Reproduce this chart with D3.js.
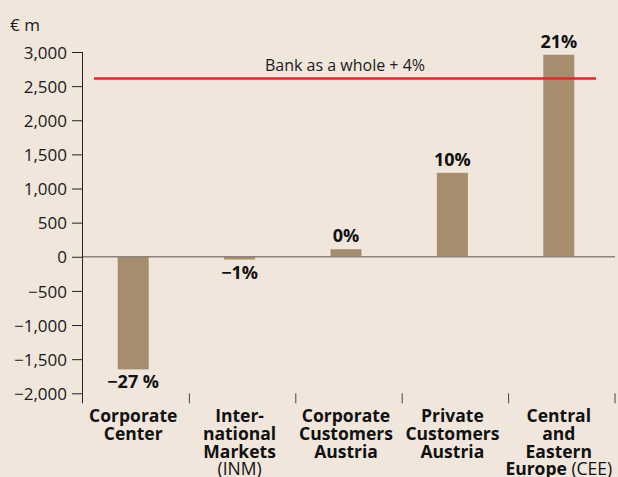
<!DOCTYPE html>
<html>
<head>
<meta charset="utf-8">
<script src="https://cdn.jsdelivr.net/npm/d3@7"></script>
<style>
  body { margin: 0; background: #f0e6dc; }
  svg { display: block; font-family: "Open Sans", sans-serif; }
</style>
</head>
<body>
<svg id="chart" width="618" height="477"></svg>
<script>
// segments (label lines; second part of a line is drawn in regular weight)
const categories = [
  [["Corporate"], ["Center"]],
  [["Inter-"], ["national"], ["Markets"], ["", "(INM)"]],
  [["Corporate"], ["Customers"], ["Austria"]],
  [["Private"], ["Customers"], ["Austria"]],
  [["Central"], ["and"], ["Eastern"], ["Europe", " (CEE)"]]
];
const values = [-1650, -40, 110, 1230, 2960];
const pctLabels = ["\u221227 %", "\u22121%", "0%", "10%", "21%"];
const yTicks = [-2000, -1500, -1000, -500, 0, 500, 1000, 1500, 2000, 2500, 3000];
const bankValue = 2610;
const bankLabel = "Bank as a whole + 4%";
const unitLabel = "\u20ac m";

const svg = d3.select("svg#chart");
const mLeft = 83, mRight = 615, mTop = 52, mBottom = 393.3;

const y = d3.scaleLinear().domain([-2000, 3000]).range([mBottom, mTop]);
const x = d3.scaleBand().domain(d3.range(categories.length)).range([mLeft, mRight]).padding(0);
const barW = 31;
const fmt = v => d3.format(",")(v).replace("-", "\u2212");
const cx = i => x(i) + x.bandwidth() / 2 - 3;

// y axis
const yAxis = svg.append("g")
  .attr("transform", `translate(${mLeft},0)`)
  .call(d3.axisLeft(y).tickValues(yTicks).tickFormat(fmt).tickSize(11).tickPadding(5));
yAxis.select(".domain").remove();
yAxis.selectAll(".tick line").attr("stroke", "#222").attr("stroke-width", 1);
yAxis.selectAll(".tick text").attr("font-size", 17).attr("fill", "#1a1a1a")
  .attr("font-family", "Open Sans, sans-serif").attr("dy", "0.36em");
svg.append("line")
  .attr("x1", mLeft - 0.5).attr("x2", mLeft - 0.5)
  .attr("y1", mTop).attr("y2", mBottom + 10)
  .attr("stroke", "#222").attr("stroke-width", 1);

svg.append("text").attr("x", 10).attr("y", 31)
  .attr("font-size", 17).attr("fill", "#1a1a1a").text(unitLabel);

// category separators
svg.selectAll("line.sep").data(d3.range(1, categories.length + 1)).join("line")
  .attr("class", "sep")
  .attr("x1", i => i === categories.length ? mRight : x(i))
  .attr("x2", i => i === categories.length ? mRight : x(i))
  .attr("y1", mBottom).attr("y2", mBottom + 10)
  .attr("stroke", "#444").attr("stroke-width", 1);

// bars
svg.selectAll("rect.bar").data(values).join("rect")
  .attr("class", "bar")
  .attr("x", (d, i) => cx(i) - barW / 2)
  .attr("width", barW)
  .attr("y", d => y(Math.max(0, d)))
  .attr("height", d => Math.abs(y(d) - y(0)))
  .attr("fill", "#a58d6e");

// zero line
svg.append("line")
  .attr("x1", mLeft).attr("x2", mRight)
  .attr("y1", y(0)).attr("y2", y(0))
  .attr("stroke", "#8c8279").attr("stroke-width", 1.5);

// bank line
svg.append("line")
  .attr("x1", 94).attr("x2", 596)
  .attr("y1", y(bankValue)).attr("y2", y(bankValue))
  .attr("stroke", "#e8262a").attr("stroke-width", 2.5);
svg.append("text").attr("x", 345).attr("y", y(bankValue) - 8)
  .attr("text-anchor", "middle").attr("font-size", 16).attr("fill", "#1a1a1a")
  .text(bankLabel);

// percentage labels
svg.selectAll("text.pct").data(values).join("text")
  .attr("class", "pct")
  .attr("x", (d, i) => cx(i))
  .attr("y", d => d >= 0 ? y(d) - 7 : y(d) + 19)
  .attr("text-anchor", "middle")
  .attr("font-size", 18).attr("font-weight", "bold").attr("fill", "#111")
  .text((d, i) => pctLabels[i]);

// category labels
const cat = svg.selectAll("text.cat").data(categories).join("text")
  .attr("class", "cat")
  .attr("text-anchor", "middle")
  .attr("font-size", 17.5).attr("fill", "#111");
cat.each(function(lines, i) {
  const t = d3.select(this);
  lines.forEach((ln, j) => {
    const ts = t.append("tspan")
      .attr("x", cx(i))
      .attr("y", 422 + j * 17.8);
    ts.append("tspan").attr("font-weight", "bold").text(ln[0]);
    if (ln[1]) ts.append("tspan").attr("font-weight", "normal").text(ln[1]);
  });
});
</script>
</body>
</html>
